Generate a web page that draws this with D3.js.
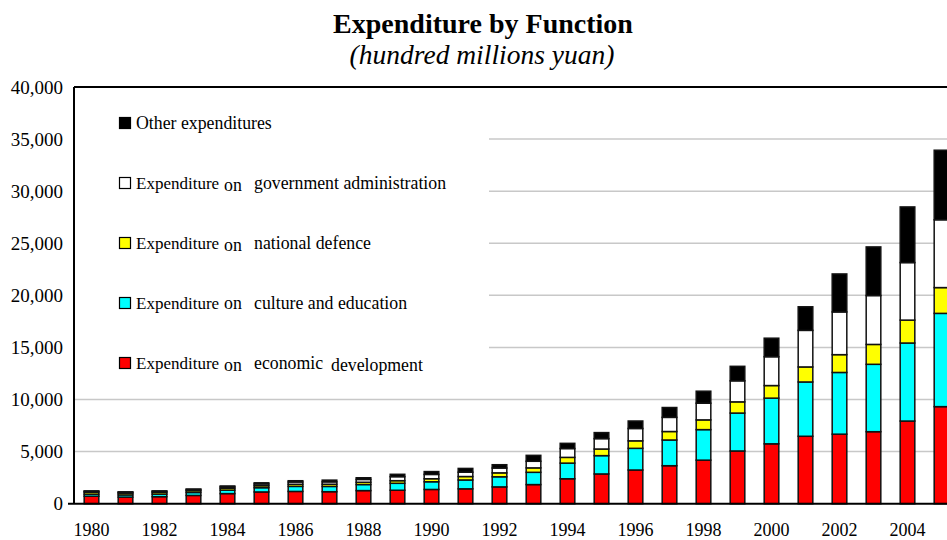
<!DOCTYPE html>
<html>
<head>
<meta charset="utf-8">
<script src="https://cdn.jsdelivr.net/npm/d3@7"></script>
<style>
  html, body { margin: 0; padding: 0; background: #fff; }
  svg { display: block; }
  svg text { font-family: "Liberation Serif", "Times New Roman", serif; fill: #000; }
</style>
</head>
<body>
<svg id="chart" width="947" height="540"></svg>
<script>
// Fiscal expenditure by function, hundred million yuan
const years = [1980, 1981, 1982, 1983, 1984, 1985, 1986, 1987, 1988, 1989, 1990, 1991, 1992,
               1993, 1994, 1995, 1996, 1997, 1998, 1999, 2000, 2001, 2002, 2003, 2004, 2005];
const economic = [715, 631, 675, 795, 969, 1128, 1178, 1153, 1258, 1291, 1368, 1428, 1613,
                  1835, 2394, 2856, 3234, 3647, 4180, 5061, 5748, 6473, 6674, 6912, 7933, 9317];
const culture = [199, 211, 243, 283, 332, 408, 485, 506, 581, 668, 738, 850, 970,
                 1178, 1502, 1757, 2081, 2469, 2931, 3639, 4385, 5213, 5925, 6469, 7491, 8953];
const defence = [194, 168, 176, 177, 181, 192, 201, 210, 218, 251, 290, 330, 378,
                 426, 551, 637, 720, 813, 935, 1076, 1208, 1442, 1708, 1908, 2200, 2475];
const admin = [76, 83, 91, 103, 140, 171, 220, 228, 272, 386, 415, 414, 463,
               634, 848, 997, 1185, 1359, 1600, 2021, 2768, 3512, 4101, 4691, 5522, 6512];
const other = [45, 46, 44, 52, 80, 106, 121, 165, 162, 226, 273, 364, 318,
               569, 499, 578, 718, 945, 1153, 1390, 1778, 2262, 3646, 4669, 5341, 6673];

const seriesKeys = ["economic", "culture", "defence", "admin", "other"];
const seriesNames = {
  economic: ["Expenditure", "on", "economic", "development"],
  culture: ["Expenditure", "on", "culture and education"],
  defence: ["Expenditure", "on", "national defence"],
  admin: ["Expenditure", "on", "government administration"],
  other: ["Other expenditures"]
};
const seriesColors = { economic: "#ff0000", culture: "#00ffff", defence: "#ffff00", admin: "#ffffff", other: "#000000" };
const yTicks = [0, 5000, 10000, 15000, 20000, 25000, 30000, 35000, 40000];
const xTickYears = years.filter(y => y % 2 === 0 && y <= 2004);

const rows = years.map((yr, i) => ({
  year: yr, economic: economic[i], culture: culture[i], defence: defence[i], admin: admin[i], other: other[i]
}));

const svg = d3.select("#chart");
const plot = { left: 74, top: 87, bottom: 503.7 };
const serif = '"Liberation Serif", "Times New Roman", serif';

const x = d3.scaleBand().domain(years).range([plot.left + 0.5, plot.left + 0.5 + 34 * years.length]).paddingInner(0.57).paddingOuter(0.285);
const y = d3.scaleLinear().domain([0, 40000]).range([plot.bottom, plot.top]);

// Title
svg.append("text").attr("x", 483).attr("y", 33).attr("text-anchor", "middle")
  .style("font-family", serif).style("font-size", "28px").style("font-weight", "bold").text("Expenditure by Function");
svg.append("text").attr("x", 482).attr("y", 64).attr("text-anchor", "middle")
  .style("font-family", serif).style("font-size", "27.5px").style("font-style", "italic").text("(hundred millions yuan)");

// Gridlines
svg.append("g").selectAll("line").data(yTicks.filter(t => t > 0 && t < 40000)).join("line")
  .attr("x1", plot.left).attr("x2", 947)
  .attr("y1", d => y(d)).attr("y2", d => y(d))
  .attr("stroke", "#c8c8c8").attr("stroke-width", 1.5);

// Stacked bars
const stack = d3.stack().keys(seriesKeys)(rows);
svg.append("g").selectAll("g").data(stack).join("g")
  .attr("fill", d => seriesColors[d.key])
  .selectAll("rect").data(d => d).join("rect")
  .attr("x", d => x(d.data.year))
  .attr("width", x.bandwidth())
  .attr("y", d => y(d[1]))
  .attr("height", d => y(d[0]) - y(d[1]))
  .attr("stroke", "#111").attr("stroke-width", 1.5);

// Legend panel, drawn over the upper-left gridlines
svg.append("rect").attr("x", plot.left + 1).attr("y", plot.top + 2).attr("width", 489 - plot.left - 1).attr("height", 290)
  .attr("fill", "#fff");

const legendOrder = ["other", "admin", "defence", "culture", "economic"];
const legend = svg.append("g").selectAll("g").data(legendOrder).join("g")
  .attr("transform", (d, i) => `translate(119, ${123 + i * 60})`);
legend.append("rect").attr("x", 0.5).attr("y", -5.5).attr("width", 11).attr("height", 11)
  .attr("fill", d => seriesColors[d]).attr("stroke", "#000").attr("stroke-width", 1.2);
legend.each(function (d) {
  const t = d3.select(this).append("text").attr("y", 6).style("font-size", "17.8px").style("font-family", serif);
  const parts = seriesNames[d];
  if (parts.length === 1) {
    t.append("tspan").attr("x", 17).text(parts[0]);
  } else {
    t.append("tspan").attr("x", 17).style("font-size", "17px").text(parts[0]);
    const low = d === "culture" ? 0 : 2;
    t.append("tspan").attr("x", 105).attr("dy", low).text(parts[1]);
    t.append("tspan").attr("x", 135).attr("dy", -low).text(parts[2]);
    if (parts[3]) t.append("tspan").attr("x", 212).attr("dy", 2).text(parts[3]);
  }
});

// Frame: top border, left axis, bottom axis
svg.append("line").attr("x1", plot.left).attr("x2", 947).attr("y1", plot.top).attr("y2", plot.top)
  .attr("stroke", "#000").attr("stroke-width", 2);
svg.append("line").attr("x1", plot.left).attr("x2", plot.left).attr("y1", plot.top).attr("y2", plot.bottom)
  .attr("stroke", "#000").attr("stroke-width", 2);
svg.append("line").attr("x1", plot.left - 6).attr("x2", 947).attr("y1", plot.bottom).attr("y2", plot.bottom)
  .attr("stroke", "#000").attr("stroke-width", 2);

// Y axis labels
const yAxis = d3.axisLeft(y).tickValues(yTicks).tickSize(0).tickPadding(11).tickFormat(d3.format(","));
const gy = svg.append("g").attr("transform", `translate(${plot.left},0)`).call(yAxis);
gy.select(".domain").remove();
gy.attr("font-family", null);
gy.selectAll("text").style("font-family", serif).style("font-size", "19px");

// X axis labels
const xAxis = d3.axisBottom(x).tickValues(xTickYears).tickSize(0).tickPadding(20);
const gx = svg.append("g").attr("transform", `translate(0,${plot.bottom})`).call(xAxis);
gx.select(".domain").remove();
gx.attr("font-family", null);
gx.selectAll("text").style("font-family", serif).style("font-size", "18px");
</script>
</body>
</html>
